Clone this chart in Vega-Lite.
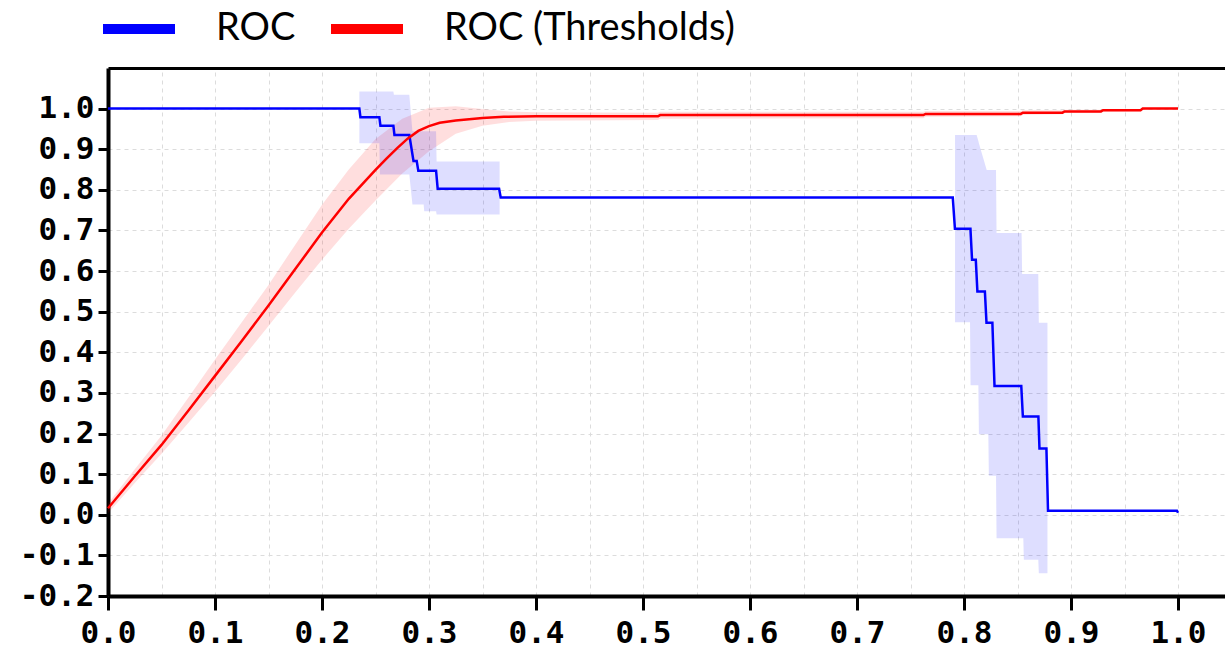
{
  "$schema": "https://vega.github.io/schema/vega-lite/v6.json",
  "width": 1117,
  "height": 528,
  "autosize": "none",
  "padding": {"left": 108, "top": 68, "right": 0, "bottom": 55},
  "background": "white",
  "config": {"view": {"stroke": null}},
  "datasets": {
    "lines": [
      {"series": "ROC", "x": 0, "y": 1.0},
      {"series": "ROC", "x": 0.2349, "y": 1.0},
      {"series": "ROC", "x": 0.2359, "y": 0.979},
      {"series": "ROC", "x": 0.2536, "y": 0.979},
      {"series": "ROC", "x": 0.2546, "y": 0.958},
      {"series": "ROC", "x": 0.2667, "y": 0.958},
      {"series": "ROC", "x": 0.2677, "y": 0.935},
      {"series": "ROC", "x": 0.2816, "y": 0.935},
      {"series": "ROC", "x": 0.2855, "y": 0.871},
      {"series": "ROC", "x": 0.2885, "y": 0.871},
      {"series": "ROC", "x": 0.2900, "y": 0.847},
      {"series": "ROC", "x": 0.3066, "y": 0.847},
      {"series": "ROC", "x": 0.3081, "y": 0.803},
      {"series": "ROC", "x": 0.3655, "y": 0.803},
      {"series": "ROC", "x": 0.3670, "y": 0.781},
      {"series": "ROC", "x": 0.7895, "y": 0.781},
      {"series": "ROC", "x": 0.7915, "y": 0.704},
      {"series": "ROC", "x": 0.8060, "y": 0.704},
      {"series": "ROC", "x": 0.8075, "y": 0.628},
      {"series": "ROC", "x": 0.8110, "y": 0.628},
      {"series": "ROC", "x": 0.8125, "y": 0.550},
      {"series": "ROC", "x": 0.8195, "y": 0.550},
      {"series": "ROC", "x": 0.8210, "y": 0.473},
      {"series": "ROC", "x": 0.8265, "y": 0.473},
      {"series": "ROC", "x": 0.8285, "y": 0.317},
      {"series": "ROC", "x": 0.8535, "y": 0.317},
      {"series": "ROC", "x": 0.8550, "y": 0.242},
      {"series": "ROC", "x": 0.8695, "y": 0.242},
      {"series": "ROC", "x": 0.8705, "y": 0.163},
      {"series": "ROC", "x": 0.8770, "y": 0.163},
      {"series": "ROC", "x": 0.8785, "y": 0.010},
      {"series": "ROC", "x": 0.9990, "y": 0.010},
      {"series": "ROC", "x": 1.0, "y": 0.005},
      {"series": "ROC (Thresholds)", "x": 0, "y": 0.016},
      {"series": "ROC (Thresholds)", "x": 0.025, "y": 0.095},
      {"series": "ROC (Thresholds)", "x": 0.05, "y": 0.172},
      {"series": "ROC (Thresholds)", "x": 0.075, "y": 0.256},
      {"series": "ROC (Thresholds)", "x": 0.1, "y": 0.342},
      {"series": "ROC (Thresholds)", "x": 0.125, "y": 0.428},
      {"series": "ROC (Thresholds)", "x": 0.15, "y": 0.515},
      {"series": "ROC (Thresholds)", "x": 0.175, "y": 0.605},
      {"series": "ROC (Thresholds)", "x": 0.2, "y": 0.695},
      {"series": "ROC (Thresholds)", "x": 0.225, "y": 0.778},
      {"series": "ROC (Thresholds)", "x": 0.25, "y": 0.849},
      {"series": "ROC (Thresholds)", "x": 0.26, "y": 0.876},
      {"series": "ROC (Thresholds)", "x": 0.27, "y": 0.902},
      {"series": "ROC (Thresholds)", "x": 0.28, "y": 0.926},
      {"series": "ROC (Thresholds)", "x": 0.29, "y": 0.945},
      {"series": "ROC (Thresholds)", "x": 0.3, "y": 0.957},
      {"series": "ROC (Thresholds)", "x": 0.31, "y": 0.965},
      {"series": "ROC (Thresholds)", "x": 0.325, "y": 0.971},
      {"series": "ROC (Thresholds)", "x": 0.35, "y": 0.977},
      {"series": "ROC (Thresholds)", "x": 0.37, "y": 0.980},
      {"series": "ROC (Thresholds)", "x": 0.4, "y": 0.981},
      {"series": "ROC (Thresholds)", "x": 0.514, "y": 0.981},
      {"series": "ROC (Thresholds)", "x": 0.516, "y": 0.984},
      {"series": "ROC (Thresholds)", "x": 0.762, "y": 0.984},
      {"series": "ROC (Thresholds)", "x": 0.764, "y": 0.987},
      {"series": "ROC (Thresholds)", "x": 0.853, "y": 0.987},
      {"series": "ROC (Thresholds)", "x": 0.855, "y": 0.990},
      {"series": "ROC (Thresholds)", "x": 0.892, "y": 0.990},
      {"series": "ROC (Thresholds)", "x": 0.894, "y": 0.993},
      {"series": "ROC (Thresholds)", "x": 0.928, "y": 0.993},
      {"series": "ROC (Thresholds)", "x": 0.930, "y": 0.996},
      {"series": "ROC (Thresholds)", "x": 0.965, "y": 0.996},
      {"series": "ROC (Thresholds)", "x": 0.967, "y": 1.0},
      {"series": "ROC (Thresholds)", "x": 1.0, "y": 1.0}
    ],
    "redband": [
      {"x": 0, "lo": 0.004, "hi": 0.028},
      {"x": 0.025, "lo": 0.078, "hi": 0.112},
      {"x": 0.05, "lo": 0.15, "hi": 0.195},
      {"x": 0.075, "lo": 0.226, "hi": 0.288},
      {"x": 0.1, "lo": 0.303, "hi": 0.382},
      {"x": 0.125, "lo": 0.383, "hi": 0.474},
      {"x": 0.15, "lo": 0.465, "hi": 0.566},
      {"x": 0.175, "lo": 0.547, "hi": 0.665},
      {"x": 0.2, "lo": 0.628, "hi": 0.763},
      {"x": 0.225, "lo": 0.704, "hi": 0.85},
      {"x": 0.25, "lo": 0.774, "hi": 0.925},
      {"x": 0.275, "lo": 0.84, "hi": 0.975},
      {"x": 0.3, "lo": 0.895, "hi": 1.002},
      {"x": 0.325, "lo": 0.938, "hi": 1.006},
      {"x": 0.35, "lo": 0.958, "hi": 0.999},
      {"x": 0.375, "lo": 0.967, "hi": 0.993},
      {"x": 0.4, "lo": 0.970, "hi": 0.991},
      {"x": 0.514, "lo": 0.972, "hi": 0.99},
      {"x": 0.516, "lo": 0.975, "hi": 0.992},
      {"x": 0.762, "lo": 0.976, "hi": 0.992},
      {"x": 0.764, "lo": 0.980, "hi": 0.994},
      {"x": 0.853, "lo": 0.981, "hi": 0.994},
      {"x": 0.855, "lo": 0.985, "hi": 0.996},
      {"x": 0.892, "lo": 0.986, "hi": 0.996},
      {"x": 0.894, "lo": 0.989, "hi": 0.997},
      {"x": 0.928, "lo": 0.989, "hi": 0.997},
      {"x": 0.930, "lo": 0.993, "hi": 0.999},
      {"x": 0.965, "lo": 0.993, "hi": 0.999},
      {"x": 0.967, "lo": 0.998, "hi": 1.002},
      {"x": 1.0, "lo": 0.998, "hi": 1.002}
    ],
    "blueband": [
      {"seg": 1, "x": 0.2349, "lo": 0.915, "hi": 1.042},
      {"seg": 1, "x": 0.2536, "lo": 0.915, "hi": 1.042},
      {"seg": 1, "x": 0.2541, "lo": 0.838, "hi": 1.042},
      {"seg": 1, "x": 0.2667, "lo": 0.838, "hi": 1.042},
      {"seg": 1, "x": 0.2672, "lo": 0.838, "hi": 1.034},
      {"seg": 1, "x": 0.2816, "lo": 0.838, "hi": 1.034},
      {"seg": 1, "x": 0.2845, "lo": 0.764, "hi": 0.944},
      {"seg": 1, "x": 0.2950, "lo": 0.764, "hi": 0.944},
      {"seg": 1, "x": 0.2955, "lo": 0.747, "hi": 0.944},
      {"seg": 1, "x": 0.3066, "lo": 0.747, "hi": 0.944},
      {"seg": 1, "x": 0.3071, "lo": 0.739, "hi": 0.87},
      {"seg": 1, "x": 0.3660, "lo": 0.739, "hi": 0.87},
      {"seg": 2, "x": 0.7916, "lo": 0.474, "hi": 0.935},
      {"seg": 2, "x": 0.8056, "lo": 0.474, "hi": 0.935},
      {"seg": 2, "x": 0.8061, "lo": 0.319, "hi": 0.935},
      {"seg": 2, "x": 0.8118, "lo": 0.319, "hi": 0.935},
      {"seg": 2, "x": 0.8134, "lo": 0.319, "hi": 0.92},
      {"seg": 2, "x": 0.8139, "lo": 0.198, "hi": 0.915},
      {"seg": 2, "x": 0.8212, "lo": 0.198, "hi": 0.849},
      {"seg": 2, "x": 0.8227, "lo": 0.198, "hi": 0.849},
      {"seg": 2, "x": 0.8232, "lo": 0.096, "hi": 0.849},
      {"seg": 2, "x": 0.8299, "lo": 0.096, "hi": 0.849},
      {"seg": 2, "x": 0.8304, "lo": -0.058, "hi": 0.694},
      {"seg": 2, "x": 0.8538, "lo": -0.058, "hi": 0.694},
      {"seg": 2, "x": 0.8543, "lo": -0.058, "hi": 0.593},
      {"seg": 2, "x": 0.8554, "lo": -0.058, "hi": 0.593},
      {"seg": 2, "x": 0.8559, "lo": -0.111, "hi": 0.593},
      {"seg": 2, "x": 0.8694, "lo": -0.111, "hi": 0.593},
      {"seg": 2, "x": 0.8699, "lo": -0.144, "hi": 0.473},
      {"seg": 2, "x": 0.8780, "lo": -0.144, "hi": 0.473}
    ]
  },
  "resolve": {"axis": {"x": "independent"}},
  "layer": [
    {
      "data": {"name": "redband"},
      "mark": {"type": "area", "color": "#ff0000", "fillOpacity": 0.13, "interpolate": "linear"},
      "encoding": {
        "x": {"field": "x", "type": "quantitative",
          "scale": {"domain": [0, 1.0439], "nice": false, "zero": false},
          "axis": {"orient": "top", "title": null, "labels": false, "ticks": false,
            "values": [0, 0.05, 0.1, 0.15, 0.2, 0.25, 0.3, 0.35, 0.4, 0.45, 0.5, 0.55, 0.6, 0.65, 0.7, 0.75, 0.8, 0.85, 0.9, 0.95, 1.0],
            "grid": true, "gridColor": "#dcdcdc", "gridDash": [4, 4], "gridWidth": 1,
            "domain": true, "domainColor": "#000000", "domainWidth": 3}},
        "y": {"field": "lo", "type": "quantitative",
          "scale": {"domain": [-0.2, 1.1], "nice": false, "zero": false},
          "axis": {"title": null, "values": [-0.2, -0.1, 0, 0.1, 0.2, 0.3, 0.4, 0.5, 0.6, 0.7, 0.8, 0.9, 1.0],
            "labelExpr": "replace(format(datum.value, '.1f'), '\u2212', '-')", "labelFont": "DejaVu Sans Mono", "labelFontWeight": "bold", "labelFontSize": 31,
            "labelColor": "#000000", "labelPadding": 4, "tickColor": "#000000", "tickWidth": 3, "tickSize": 10,
            "domainColor": "#000000", "domainWidth": 4, "grid": true, "gridColor": "#dcdcdc", "gridDash": [4, 4], "gridWidth": 1}},
        "y2": {"field": "hi"}
      }
    },
    {
      "data": {"name": "blueband"},
      "mark": {"type": "area", "color": "#0000ff", "fillOpacity": 0.13, "interpolate": "linear"},
      "encoding": {
        "x": {"field": "x", "type": "quantitative", "axis": null},
        "y": {"field": "lo", "type": "quantitative",
          "axis": {"title": null, "values": [-0.2, -0.1, 0, 0.1, 0.2, 0.3, 0.4, 0.5, 0.6, 0.7, 0.8, 0.9, 1.0],
            "labelExpr": "replace(format(datum.value, '.1f'), '\u2212', '-')", "labelFont": "DejaVu Sans Mono", "labelFontWeight": "bold", "labelFontSize": 31,
            "labelColor": "#000000", "labelPadding": 4, "tickColor": "#000000", "tickWidth": 3, "tickSize": 10,
            "domainColor": "#000000", "domainWidth": 4, "grid": true, "gridColor": "#dcdcdc", "gridDash": [4, 4], "gridWidth": 1}},
        "y2": {"field": "hi"},
        "detail": {"field": "seg", "type": "nominal"}
      }
    },
    {
      "data": {"name": "lines"},
      "mark": {"type": "line", "strokeWidth": 2.5, "interpolate": "linear"},
      "encoding": {
        "x": {"field": "x", "type": "quantitative",
          "axis": {"orient": "bottom", "title": null, "values": [0, 0.1, 0.2, 0.3, 0.4, 0.5, 0.6, 0.7, 0.8, 0.9, 1.0],
            "format": ".1f", "labelFont": "DejaVu Sans Mono", "labelFontWeight": "bold", "labelFontSize": 31,
            "labelColor": "#000000", "labelPadding": 8, "labelFlush": false, "tickColor": "#000000", "tickWidth": 3, "tickSize": 14,
            "domainColor": "#000000", "domainWidth": 4, "grid": false}},
        "y": {"field": "y", "type": "quantitative",
          "axis": {"title": null, "values": [-0.2, -0.1, 0, 0.1, 0.2, 0.3, 0.4, 0.5, 0.6, 0.7, 0.8, 0.9, 1.0],
            "labelExpr": "replace(format(datum.value, '.1f'), '\u2212', '-')", "labelFont": "DejaVu Sans Mono", "labelFontWeight": "bold", "labelFontSize": 31,
            "labelColor": "#000000", "labelPadding": 4, "tickColor": "#000000", "tickWidth": 3, "tickSize": 10,
            "domainColor": "#000000", "domainWidth": 4, "grid": true, "gridColor": "#dcdcdc", "gridDash": [4, 4], "gridWidth": 1}},
        "color": {"field": "series", "type": "nominal",
          "scale": {"domain": ["ROC", "ROC (Thresholds)"], "range": ["#0000ff", "#ff0000"]},
          "legend": {"orient": "none", "legendX": -10, "legendY": -80, "direction": "horizontal", "title": null,
            "symbolType": "stroke", "symbolStrokeWidth": 10, "symbolSize": 5184,
            "labelFont": "Lato", "labelFontSize": 38, "labelColor": "#000000", "labelOffset": 36, "columnPadding": 15,
            "labelLimit": 500}}
      }
    }
  ]
}
